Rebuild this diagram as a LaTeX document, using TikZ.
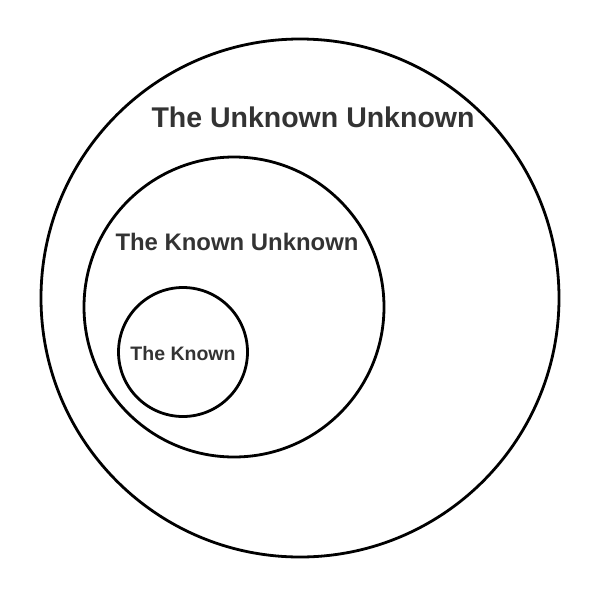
\documentclass[tikz,border=0pt]{standalone}
\usepackage{fontspec}
\setmainfont{Liberation Sans}
\usetikzlibrary{positioning}
\definecolor{labelgray}{RGB}{51,51,51}

\begin{document}
\begin{tikzpicture}[
      x=1pt, y=-1pt,
      ring/.style={circle, draw=black, line width=2.8pt, inner sep=0pt},
      lab/.style={text=labelgray, inner sep=0pt}
    ]
      \useasboundingbox (0,0) rectangle (600,600);

      \node[ring, minimum size=518pt] (unknownunknown) at (300,298) {};
      \node[ring, minimum size=300pt] (knownunknown) at (234,307) {};
      \node[ring, minimum size=129pt] (known) at (183,352) {};

      \node[lab, font=\fontsize{28.5}{32}\selectfont\bfseries] (uulabel) at (313,117) {The Unknown Unknown};
      \node[lab, font=\fontsize{23.9}{27}\selectfont\bfseries] (kulabel) at (237,242) {The Known Unknown};
      \node[lab, font=\fontsize{19.5}{22}\selectfont\bfseries] (klabel) at (183,354) {The Known};
    \end{tikzpicture}
\end{document}
